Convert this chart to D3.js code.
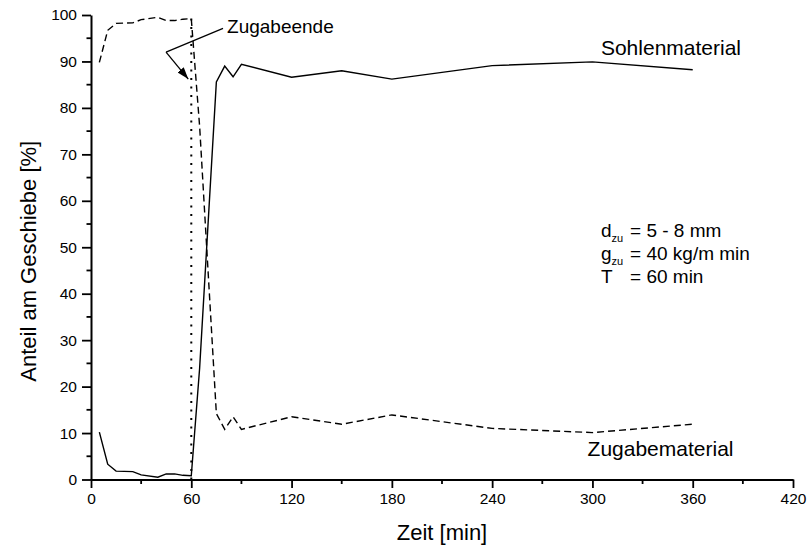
<!DOCTYPE html>
<html><head><meta charset="utf-8">
<script src="https://cdn.jsdelivr.net/npm/d3@7"></script>
<style>body{margin:0;background:#fff}svg{display:block}</style>
</head><body><svg id="c" width="807" height="547"></svg>
<script>
// ---- data ----
const time = [5,10,15,25,30,40,45,50,55,60,65,75,80,85,90,120,150,180,240,300,360];
const sohlenmaterial = [10.2,3.3,1.8,1.7,1.0,0.5,1.2,1.2,0.9,0.8,24,85.6,89,86.7,89.4,86.6,88.0,86.2,89.1,89.9,88.2];
const zugabematerial = [89.8,96.7,98.2,98.3,99.0,99.5,98.8,98.8,99.1,99.2,76,14.2,10.8,13.5,10.8,13.5,11.9,13.9,11.0,10.1,11.9];
const xTicks = [0,60,120,180,240,300,360,420];
const xMinorTicks = [30,90,150,210,270,330,390];
const yTicks = [0,10,20,30,40,50,60,70,80,90,100];
const yMinorTicks = [5,15,25,35,45,55,65,75,85,95];
const zugabeEnde = 60;
// annotation anchor points (data units)
const annoLine = [[79,97.1],[44.9,92.0]];
const annoArrow = [[44.9,92.0],[58.2,86.2]];

const FONT = "'Liberation Sans', Arial, Helvetica, sans-serif";
const svg = d3.select("#c");
const x = d3.scaleLinear().domain([0,420]).range([91,793]);
const y = d3.scaleLinear().domain([0,100]).range([479.5,15]);

// minor ticks
const gx = svg.append("g").attr("transform",`translate(0,${y(0)})`);
gx.selectAll("line.minor").data(xMinorTicks).join("line")
  .attr("x1",d=>x(d)).attr("x2",d=>x(d)).attr("y1",0).attr("y2",4.5)
  .attr("stroke","#000").attr("stroke-width",1.8);
gx.call(d3.axisBottom(x).tickValues(xTicks).tickSize(8.5).tickSizeOuter(0).tickPadding(5).tickFormat(d3.format("d")));
const gy = svg.append("g").attr("transform",`translate(${x(0)},0)`);
gy.selectAll("line.minor").data(yMinorTicks).join("line")
  .attr("y1",d=>y(d)).attr("y2",d=>y(d)).attr("x1",0).attr("x2",-4.5)
  .attr("stroke","#000").attr("stroke-width",1.8);
gy.call(d3.axisLeft(y).tickValues(yTicks).tickSize(9).tickSizeOuter(0).tickPadding(5).tickFormat(d3.format("d")));
[gx,gy].forEach(g=>{
  g.selectAll("path.domain").attr("stroke","#000").attr("stroke-width",2);
  g.selectAll(".tick line").attr("stroke","#000").attr("stroke-width",1.8);
  g.selectAll(".tick text").attr("font-family",FONT).attr("font-size","15.5px").attr("fill","#000");
});

// axis titles
svg.append("text").attr("x",(x(0)+x(420))/2 - 0).attr("y",540)
  .attr("text-anchor","middle").attr("font-family",FONT).attr("font-size","22px").text("Zeit [min]");
svg.append("text").attr("transform",`translate(36,${(y(0)+y(100))/2+14}) rotate(-90)`)
  .attr("text-anchor","middle").attr("font-family",FONT).attr("font-size","22px").text("Anteil am Geschiebe [%]");

// series
const line = d3.line().x(d=>x(d[0])).y(d=>y(d[1]));
svg.append("path").datum(time.map((t,i)=>[t,zugabematerial[i]]))
  .attr("d",line).attr("fill","none").attr("stroke","#000").attr("stroke-width",1.4)
  .attr("stroke-dasharray","7,4");
svg.append("path").datum(time.map((t,i)=>[t,sohlenmaterial[i]]))
  .attr("d",line).attr("fill","none").attr("stroke","#000").attr("stroke-width",1.4);
// vertical dotted line
svg.append("line").attr("x1",x(zugabeEnde)).attr("x2",x(zugabeEnde))
  .attr("y1",y(0)).attr("y2",y(100))
  .attr("stroke","#000").attr("stroke-width",2).attr("stroke-dasharray","2,6.5");

// annotation
svg.append("defs").append("marker").attr("id","ah")
  .attr("viewBox","0 0 12 8").attr("refX",12).attr("refY",4)
  .attr("markerWidth",12).attr("markerHeight",8).attr("markerUnits","userSpaceOnUse")
  .attr("orient","auto")
  .append("path").attr("d","M0,0 L12,4 L0,8 Z").attr("fill","#000");
svg.append("path").datum(annoLine).attr("d",line).attr("fill","none").attr("stroke","#000").attr("stroke-width",1.3);
svg.append("path").datum(annoArrow).attr("d",line).attr("fill","none").attr("stroke","#000").attr("stroke-width",1.3)
  .attr("marker-end","url(#ah)");
svg.append("text").attr("x",x(81.4)).attr("y",y(96.1)).attr("font-family",FONT).attr("font-size","19px").text("Zugabeende");

svg.append("text").attr("x",x(305.1)).attr("y",y(91.4)).attr("font-family",FONT).attr("font-size","21px").text("Sohlenmaterial");
svg.append("text").attr("x",x(297.1)).attr("y",y(5.06)).attr("font-family",FONT).attr("font-size","21px").text("Zugabematerial");

// parameters
const params = [["d","zu","= 5 - 8 mm",52.3],["g","zu","= 40 kg/m min",47.3],["T","","= 60 min",42.2]];
params.forEach(p=>{
  const t = svg.append("text").attr("x",x(305.1)).attr("y",y(p[3])).attr("font-family",FONT).attr("font-size","19px");
  t.append("tspan").text(p[0]);
  if(p[1]) t.append("tspan").attr("font-size","11px").attr("dy",5).text(p[1]);
  svg.append("text").attr("x",x(322.5)).attr("y",y(p[3])).attr("font-family",FONT).attr("font-size","19px").text(p[2]);
});
</script></body></html>
